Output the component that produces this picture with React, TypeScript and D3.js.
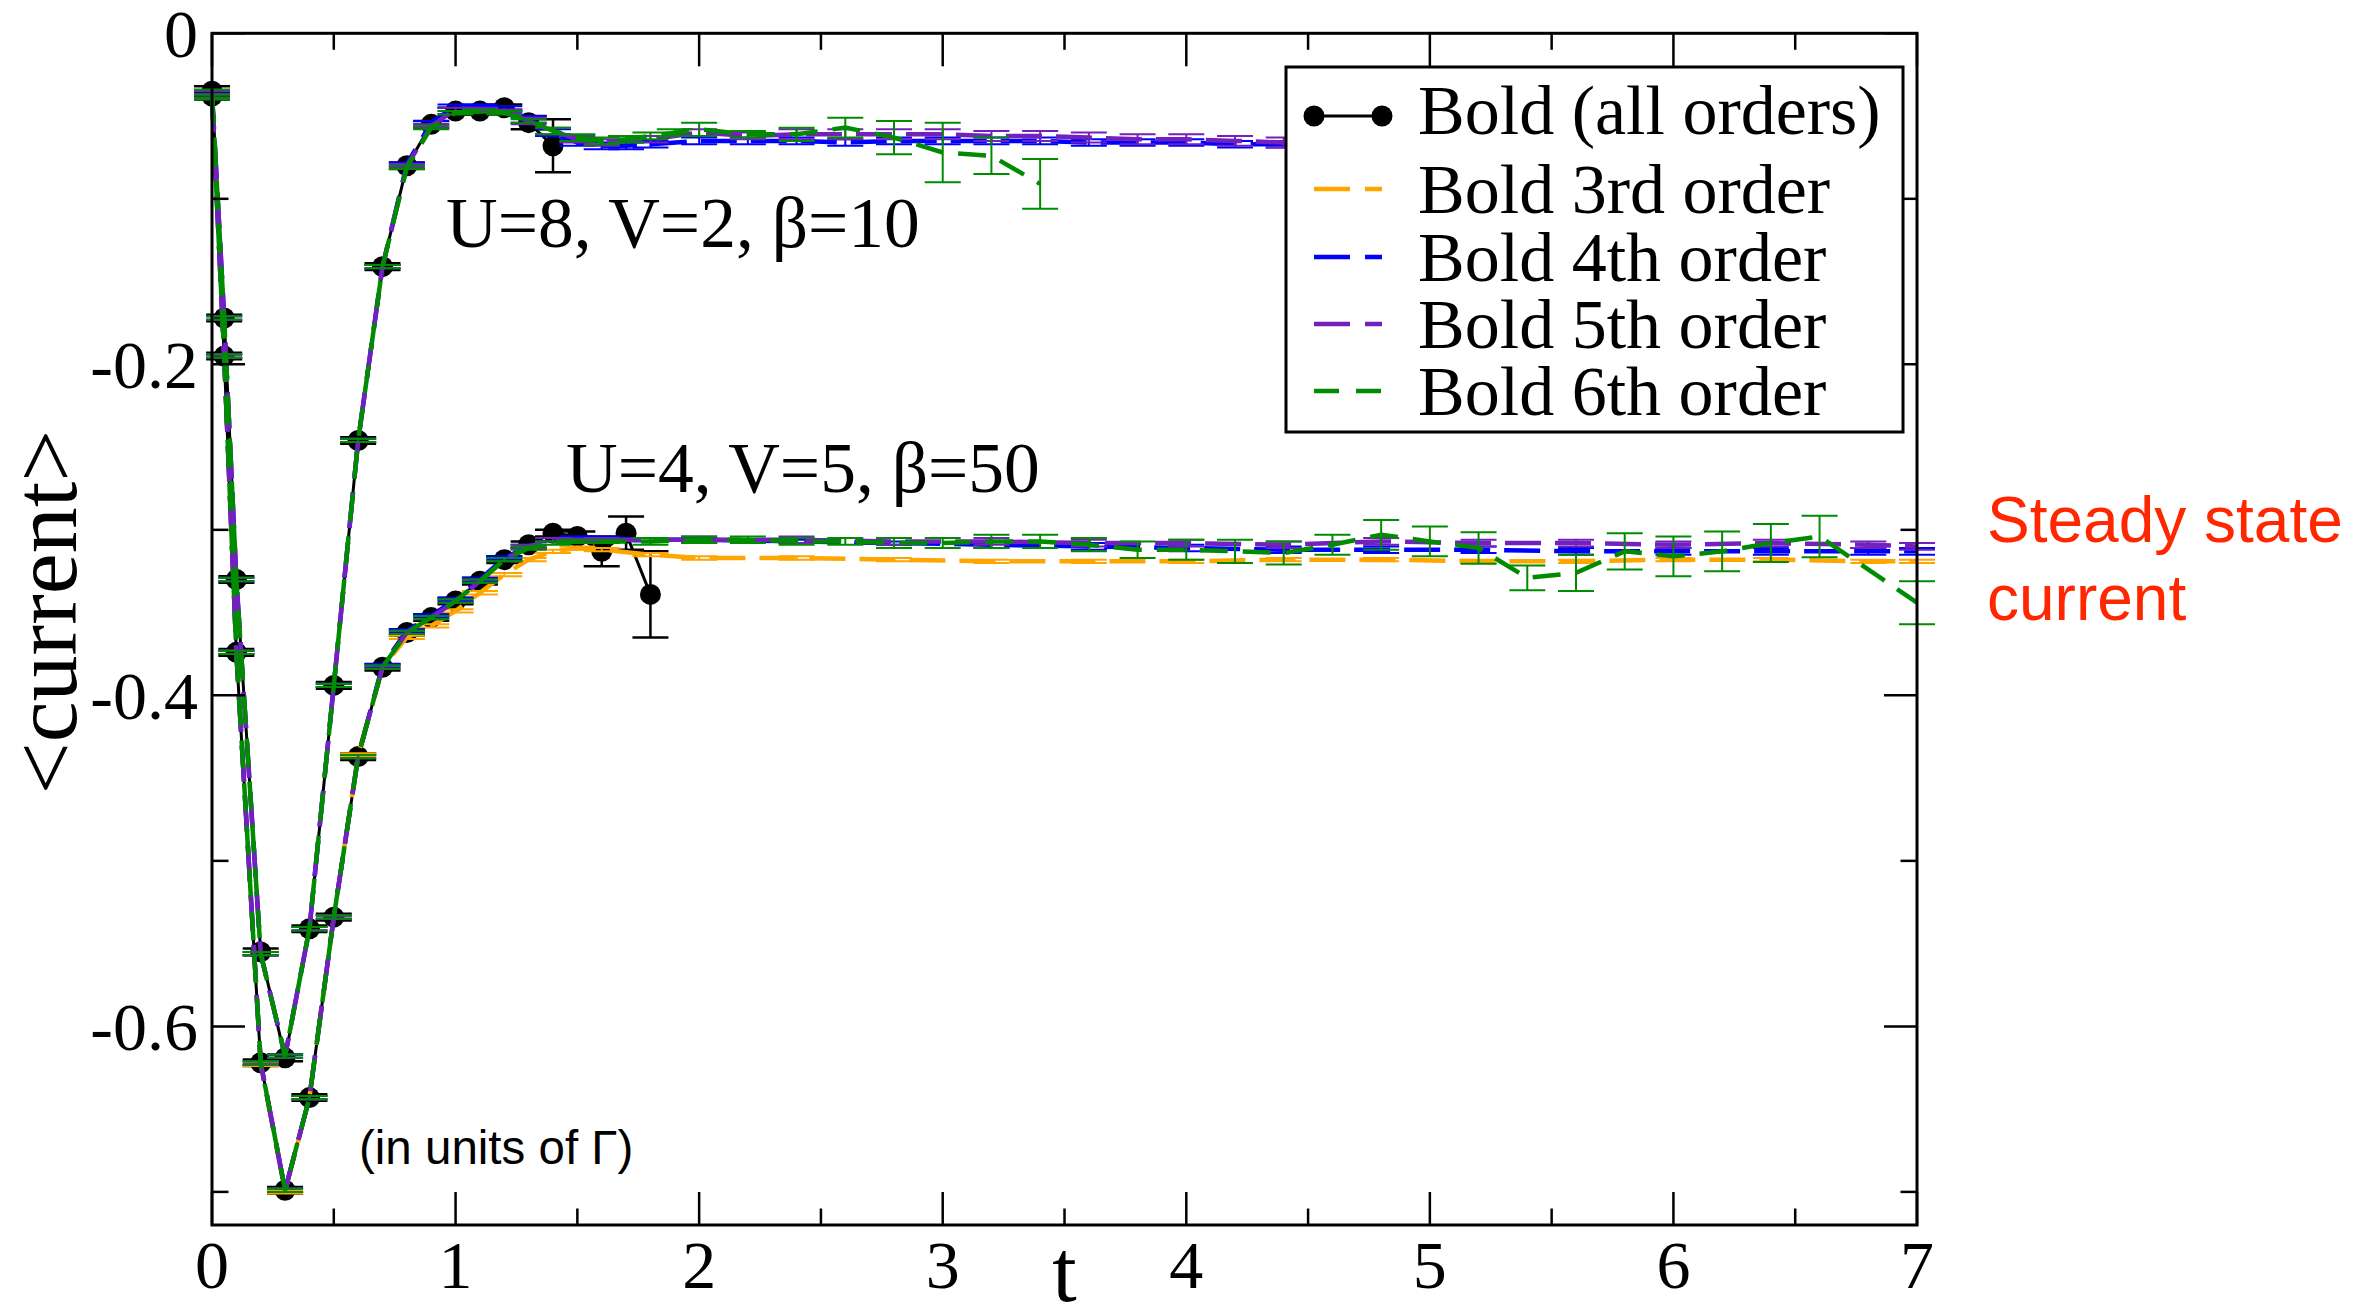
import React from 'react';
import * as d3 from 'd3';

// [t, <current>, error]
const boldAllA = [
    [0, -0.035, 0.003], [0.05, -0.172, 0.002], [0.1, -0.330, 0.002], [0.2, -0.555, 0.002],
    [0.3, -0.619, 0.002], [0.4, -0.541, 0.002], [0.5, -0.394, 0.002], [0.6, -0.246, 0.002],
    [0.7, -0.141, 0.002], [0.8, -0.080, 0.002], [0.9, -0.055, 0.002], [1.0, -0.047, 0.002],
    [1.1, -0.047, 0.002], [1.2, -0.045, 0.002], [1.3, -0.054, 0.004], [1.4, -0.068, 0.016]
];
const boldAllB = [
    [0, -0.038, 0.002], [0.05, -0.195, 0.002], [0.1, -0.374, 0.002], [0.2, -0.622, 0.002],
    [0.3, -0.699, 0.002], [0.4, -0.643, 0.002], [0.5, -0.534, 0.002], [0.6, -0.437, 0.002],
    [0.7, -0.383, 0.002], [0.8, -0.362, 0.002], [0.9, -0.353, 0.002], [1.0, -0.343, 0.002],
    [1.1, -0.331, 0.002], [1.2, -0.318, 0.002], [1.3, -0.309, 0.002], [1.4, -0.302, 0.002],
    [1.5, -0.304, 0.003], [1.6, -0.313, 0.009], [1.7, -0.302, 0.010], [1.8, -0.339, 0.026]
];

const order3B = [
    [0, -0.038, 0.001], [0.05, -0.195, 0.001], [0.1, -0.374, 0.001], [0.2, -0.623, 0.001],
    [0.3, -0.700, 0.001], [0.4, -0.643, 0.001], [0.5, -0.534, 0.001], [0.6, -0.436, 0.001],
    [0.7, -0.383, 0.001], [0.8, -0.365, 0.001], [0.9, -0.358, 0.001], [1.0, -0.349, 0.001],
    [1.1, -0.338, 0.001], [1.2, -0.327, 0.001], [1.3, -0.318, 0.001], [1.4, -0.313, 0.001],
    [1.5, -0.311, 0.001], [1.6, -0.312, 0.001], [1.8, -0.315, 0.001], [2.0, -0.317, 0.001],
    [2.4, -0.317, 0.001], [2.8, -0.318, 0.001], [3.2, -0.319, 0.001], [3.6, -0.319, 0.001],
    [4.0, -0.319, 0.001], [4.4, -0.318, 0.001], [4.8, -0.318, 0.001], [5.2, -0.319, 0.001],
    [5.6, -0.319, 0.001], [6.0, -0.318, 0.001], [6.4, -0.318, 0.001], [6.8, -0.319, 0.001],
    [7.0, -0.319, 0.001]
];

const order4A = [
    [0, -0.036, 0.001], [0.05, -0.172, 0.001], [0.1, -0.330, 0.001], [0.2, -0.556, 0.001],
    [0.3, -0.618, 0.001], [0.4, -0.541, 0.001], [0.5, -0.394, 0.001], [0.6, -0.246, 0.001],
    [0.7, -0.141, 0.001], [0.8, -0.079, 0.001], [0.9, -0.054, 0.001], [1.0, -0.044, 0.001],
    [1.1, -0.044, 0.001], [1.2, -0.045, 0.001], [1.3, -0.052, 0.002], [1.4, -0.060, 0.002],
    [1.5, -0.066, 0.002], [1.6, -0.068, 0.002], [1.7, -0.068, 0.002], [1.8, -0.067, 0.002],
    [2.0, -0.065, 0.002], [2.2, -0.065, 0.002], [2.4, -0.065, 0.002], [2.6, -0.066, 0.002],
    [2.8, -0.065, 0.002], [3.0, -0.065, 0.002], [3.2, -0.065, 0.002], [3.4, -0.065, 0.002],
    [3.6, -0.066, 0.002], [3.8, -0.066, 0.002], [4.0, -0.066, 0.002], [4.2, -0.067, 0.002],
    [4.4, -0.067, 0.002], [4.6, -0.067, 0.002]
];
const order4B = [
    [0, -0.038, 0.001], [0.05, -0.195, 0.001], [0.1, -0.374, 0.001], [0.2, -0.622, 0.001],
    [0.3, -0.699, 0.001], [0.4, -0.643, 0.001], [0.5, -0.534, 0.001], [0.6, -0.437, 0.001],
    [0.7, -0.382, 0.001], [0.8, -0.361, 0.001], [0.9, -0.352, 0.001], [1.0, -0.342, 0.001],
    [1.1, -0.330, 0.001], [1.2, -0.317, 0.001], [1.3, -0.310, 0.001], [1.4, -0.306, 0.001],
    [1.5, -0.305, 0.001], [1.6, -0.305, 0.001], [1.8, -0.306, 0.001], [2.0, -0.306, 0.001],
    [2.4, -0.307, 0.001], [2.8, -0.308, 0.001], [3.2, -0.309, 0.002], [3.6, -0.310, 0.002],
    [4.0, -0.311, 0.002], [4.4, -0.312, 0.002], [4.8, -0.312, 0.002], [5.2, -0.312, 0.002],
    [5.6, -0.313, 0.002], [6.0, -0.313, 0.002], [6.4, -0.313, 0.002], [6.8, -0.313, 0.002],
    [7.0, -0.313, 0.002]
];

const order5A = [
    [0, -0.036, 0.001], [0.05, -0.172, 0.001], [0.1, -0.330, 0.001], [0.2, -0.556, 0.001],
    [0.3, -0.618, 0.001], [0.4, -0.541, 0.001], [0.5, -0.394, 0.001], [0.6, -0.246, 0.001],
    [0.7, -0.141, 0.001], [0.8, -0.080, 0.001], [0.9, -0.056, 0.001], [1.0, -0.046, 0.001],
    [1.1, -0.046, 0.001], [1.2, -0.047, 0.001], [1.3, -0.053, 0.002], [1.4, -0.059, 0.002],
    [1.5, -0.064, 0.002], [1.6, -0.066, 0.002], [1.8, -0.064, 0.002], [2.0, -0.060, 0.002],
    [2.2, -0.062, 0.002], [2.4, -0.061, 0.003], [2.6, -0.061, 0.003], [2.8, -0.061, 0.003],
    [3.0, -0.061, 0.003], [3.2, -0.062, 0.003], [3.4, -0.062, 0.003], [3.6, -0.063, 0.003],
    [3.8, -0.064, 0.003], [4.0, -0.064, 0.003], [4.2, -0.065, 0.003], [4.4, -0.066, 0.003],
    [4.6, -0.066, 0.003]
];
const order5B = [
    [0, -0.038, 0.001], [0.05, -0.195, 0.001], [0.1, -0.374, 0.001], [0.2, -0.622, 0.001],
    [0.3, -0.699, 0.001], [0.4, -0.643, 0.001], [0.5, -0.534, 0.001], [0.6, -0.437, 0.001],
    [0.7, -0.383, 0.001], [0.8, -0.362, 0.001], [0.9, -0.353, 0.001], [1.0, -0.343, 0.001],
    [1.1, -0.331, 0.001], [1.2, -0.318, 0.001], [1.3, -0.310, 0.001], [1.4, -0.306, 0.001],
    [1.6, -0.306, 0.001], [2.0, -0.306, 0.002], [2.4, -0.306, 0.002], [2.8, -0.307, 0.002],
    [3.2, -0.307, 0.002], [3.6, -0.308, 0.002], [4.0, -0.308, 0.002], [4.4, -0.309, 0.002],
    [4.8, -0.307, 0.002], [5.2, -0.308, 0.002], [5.6, -0.308, 0.002], [6.0, -0.309, 0.002],
    [6.4, -0.308, 0.002], [6.8, -0.309, 0.002], [7.0, -0.310, 0.002]
];

const order6A = [
    [0, -0.037, 0.003], [0.05, -0.172, 0.001], [0.1, -0.330, 0.001], [0.2, -0.556, 0.001],
    [0.3, -0.618, 0.001], [0.4, -0.541, 0.001], [0.5, -0.394, 0.001], [0.6, -0.246, 0.001],
    [0.7, -0.141, 0.001], [0.8, -0.081, 0.001], [0.9, -0.057, 0.001], [1.0, -0.048, 0.001],
    [1.1, -0.047, 0.001], [1.2, -0.048, 0.001], [1.3, -0.053, 0.001], [1.4, -0.059, 0.002],
    [1.5, -0.063, 0.002], [1.6, -0.065, 0.002], [1.7, -0.064, 0.002], [1.8, -0.062, 0.002],
    [1.9, -0.060, 0.002], [2.0, -0.058, 0.004], [2.2, -0.061, 0.002], [2.4, -0.061, 0.004],
    [2.6, -0.057, 0.006], [2.8, -0.063, 0.010], [3.0, -0.072, 0.018], [3.2, -0.074, 0.011],
    [3.4, -0.091, 0.015]
];
const order6B = [
    [0, -0.038, 0.001], [0.05, -0.195, 0.001], [0.1, -0.374, 0.001], [0.2, -0.622, 0.001],
    [0.3, -0.699, 0.001], [0.4, -0.643, 0.001], [0.5, -0.534, 0.001], [0.6, -0.437, 0.001],
    [0.7, -0.383, 0.001], [0.8, -0.362, 0.001], [0.9, -0.353, 0.001], [1.0, -0.343, 0.001],
    [1.1, -0.331, 0.001], [1.2, -0.318, 0.001], [1.3, -0.311, 0.001], [1.4, -0.308, 0.001],
    [1.5, -0.307, 0.001], [1.6, -0.307, 0.001], [1.8, -0.307, 0.002], [2.0, -0.306, 0.002],
    [2.2, -0.306, 0.002], [2.4, -0.307, 0.002], [2.6, -0.307, 0.002], [2.8, -0.308, 0.003],
    [3.0, -0.308, 0.003], [3.2, -0.307, 0.004], [3.4, -0.307, 0.004], [3.6, -0.309, 0.004],
    [3.8, -0.312, 0.005], [4.0, -0.312, 0.006], [4.2, -0.313, 0.007], [4.4, -0.314, 0.007],
    [4.6, -0.309, 0.006], [4.8, -0.303, 0.009], [5.0, -0.307, 0.009], [5.2, -0.311, 0.0095],
    [5.4, -0.329, 0.0075], [5.6, -0.326, 0.011], [5.8, -0.313, 0.011], [6.0, -0.316, 0.012],
    [6.2, -0.313, 0.012], [6.4, -0.308, 0.0115], [6.6, -0.304, 0.0125], [7.0, -0.344, 0.013]
];

const xTicks = [0, 1, 2, 3, 4, 5, 6, 7];
const xMinorTicks = [0.5, 1.5, 2.5, 3.5, 4.5, 5.5, 6.5];
const yTicks = [0, -0.2, -0.4, -0.6];
const yTickLabels = ['0', '-0.2', '-0.4', '-0.6'];
const yMinorTicks = [-0.1, -0.3, -0.5, -0.7];

const legendLabels = ['Bold (all orders)', 'Bold 3rd order', 'Bold 4th order', 'Bold 5th order', 'Bold 6th order'];
const orderColors = ['#ffa500', '#0000ff', '#7221bc', '#008b00'];
const annotations = ['U=8, V=2, \u03b2=10', 'U=4, V=5, \u03b2=50'];

const serif = '"Liberation Serif", "Times New Roman", serif';
const sans = '"Liberation Sans", Arial, sans-serif';

const series = [
    { data: boldAllA, color: '#000', dash: null, dots: true },
    { data: boldAllB, color: '#000', dash: null, dots: true },
    { data: order3B, color: orderColors[0], dash: '36,14' },
    { data: order4A, color: orderColors[1], dash: '36,14' },
    { data: order4B, color: orderColors[1], dash: '36,14' },
    { data: order5A, color: orderColors[2], dash: '36,14' },
    { data: order5B, color: orderColors[2], dash: '36,14' },
    { data: order6A, color: orderColors[3], dash: '28,15' },
    { data: order6B, color: orderColors[3], dash: '28,15' },
];

function App() {
    const w = 2372, h = 1304;
    const left = 212, right = 1917, top = 33.3, bottom = 1225;
    const xScale = d3.scaleLinear().domain([0, 7]).range([left, right]);
    const yScale = d3.scaleLinear().domain([0, -0.72]).range([top, bottom]);
    const line = d3.line<number[]>().x(d => xScale(d[0])).y(d => yScale(d[1]));
    const major = 33, minor = 16.5, cap = 18;

    // legend geometry
    const lg = { x: 1286, y: 67, w: 617, h: 365 };
    const rowBase = [134, 213, 281, 348, 415];

    return (
        <svg width={w} height={h} style={{ position: 'absolute', left: 0, top: 0, background: '#fff' }}>
            <rect x={0} y={0} width={w} height={h} fill="#fff" />
            {/* series */}
            {series.map((s, i) => (
                <g key={i}>
                    <path d={line(s.data) || ''} fill="none" stroke={s.color}
                        strokeWidth={s.dots ? 3 : 4.5} strokeDasharray={s.dash || undefined} />
                    {s.dots && s.data.map((d, j) => (
                        <circle key={j} cx={xScale(d[0])} cy={yScale(d[1])} r={10.5} fill="#000" />
                    ))}
                    {s.data.map((d, j) => {
                        const cx = xScale(d[0]), y0 = yScale(d[1] + d[2]), y1 = yScale(d[1] - d[2]);
                        return (
                            <g key={'e' + j} stroke={s.color} strokeWidth={s.dots ? 2.5 : 2}>
                                <line x1={cx} x2={cx} y1={y0} y2={y1} />
                                <line x1={cx - cap} x2={cx + cap} y1={y0} y2={y0} />
                                <line x1={cx - cap} x2={cx + cap} y1={y1} y2={y1} />
                            </g>
                        );
                    })}
                </g>
            ))}
            {/* frame and ticks */}
            <rect x={left} y={top} width={right - left} height={bottom - top} fill="none" stroke="#000" strokeWidth={3} />
            <g stroke="#000" strokeWidth={2.5}>
                {xTicks.map(t => (
                    <g key={'xt' + t}>
                        <line x1={xScale(t)} x2={xScale(t)} y1={bottom} y2={bottom - major} />
                        <line x1={xScale(t)} x2={xScale(t)} y1={top} y2={top + major} />
                    </g>
                ))}
                {xMinorTicks.map(t => (
                    <g key={'xm' + t}>
                        <line x1={xScale(t)} x2={xScale(t)} y1={bottom} y2={bottom - minor} />
                        <line x1={xScale(t)} x2={xScale(t)} y1={top} y2={top + minor} />
                    </g>
                ))}
                {yTicks.map(t => (
                    <g key={'yt' + t}>
                        <line x1={left} x2={left + major} y1={yScale(t)} y2={yScale(t)} />
                        <line x1={right} x2={right - major} y1={yScale(t)} y2={yScale(t)} />
                    </g>
                ))}
                {yMinorTicks.map(t => (
                    <g key={'ym' + t}>
                        <line x1={left} x2={left + minor} y1={yScale(t)} y2={yScale(t)} />
                        <line x1={right} x2={right - minor} y1={yScale(t)} y2={yScale(t)} />
                    </g>
                ))}
            </g>
            {/* tick labels */}
            <g fontFamily={serif} fontSize={68} fill="#000">
                {xTicks.map(t => (
                    <text key={'xl' + t} x={xScale(t)} y={1288} textAnchor="middle">{t}</text>
                ))}
                {yTicks.map((t, i) => (
                    <text key={'yl' + t} x={198} y={yScale(t)} dy="0.35em" textAnchor="end">{yTickLabels[i]}</text>
                ))}
            </g>
            {/* axis labels */}
            <text x={xScale(3.5)} y={1301} textAnchor="middle" fontFamily={serif} fontSize={88}>t</text>
            <text transform="translate(76,612) rotate(-90)" textAnchor="middle" fontFamily={serif} fontSize={92}>{'<current>'}</text>
            {/* annotations */}
            <text x={446} y={247} fontFamily={serif} fontSize={71.5}>{annotations[0]}</text>
            <text x={566} y={492} fontFamily={serif} fontSize={71.5}>{annotations[1]}</text>
            <text x={359} y={1164} fontFamily={sans} fontSize={47.5}>(in units of Γ)</text>
            <g fontFamily={sans} fontSize={64} fill="#ff2600">
                <text x={1987} y={542}>Steady state</text>
                <text x={1987} y={620}>current</text>
            </g>
            {/* legend */}
            <rect x={lg.x} y={lg.y} width={lg.w} height={lg.h} fill="#fff" stroke="#000" strokeWidth={3} />
            {legendLabels.map((label, i) => {
                const base = rowBase[i];
                const sy = i === 0 ? base - 18 : base - 24;
                return (
                    <g key={'lg' + i}>
                        {i === 0 ? (
                            <g>
                                <line x1={1314} x2={1382} y1={sy} y2={sy} stroke="#000" strokeWidth={3} />
                                <circle cx={1314} cy={sy} r={10.5} fill="#000" />
                                <circle cx={1382} cy={sy} r={10.5} fill="#000" />
                            </g>
                        ) : (
                            <line x1={1314} x2={1382} y1={sy} y2={sy} stroke={orderColors[i - 1]} strokeWidth={4.5}
                                strokeDasharray={i === 4 ? '25,17' : '36,15'} />
                        )}
                        <text x={1418} y={base} fontFamily={serif} fontSize={70}>{label}</text>
                    </g>
                );
            })}
        </svg>
    );
}

export default App;
